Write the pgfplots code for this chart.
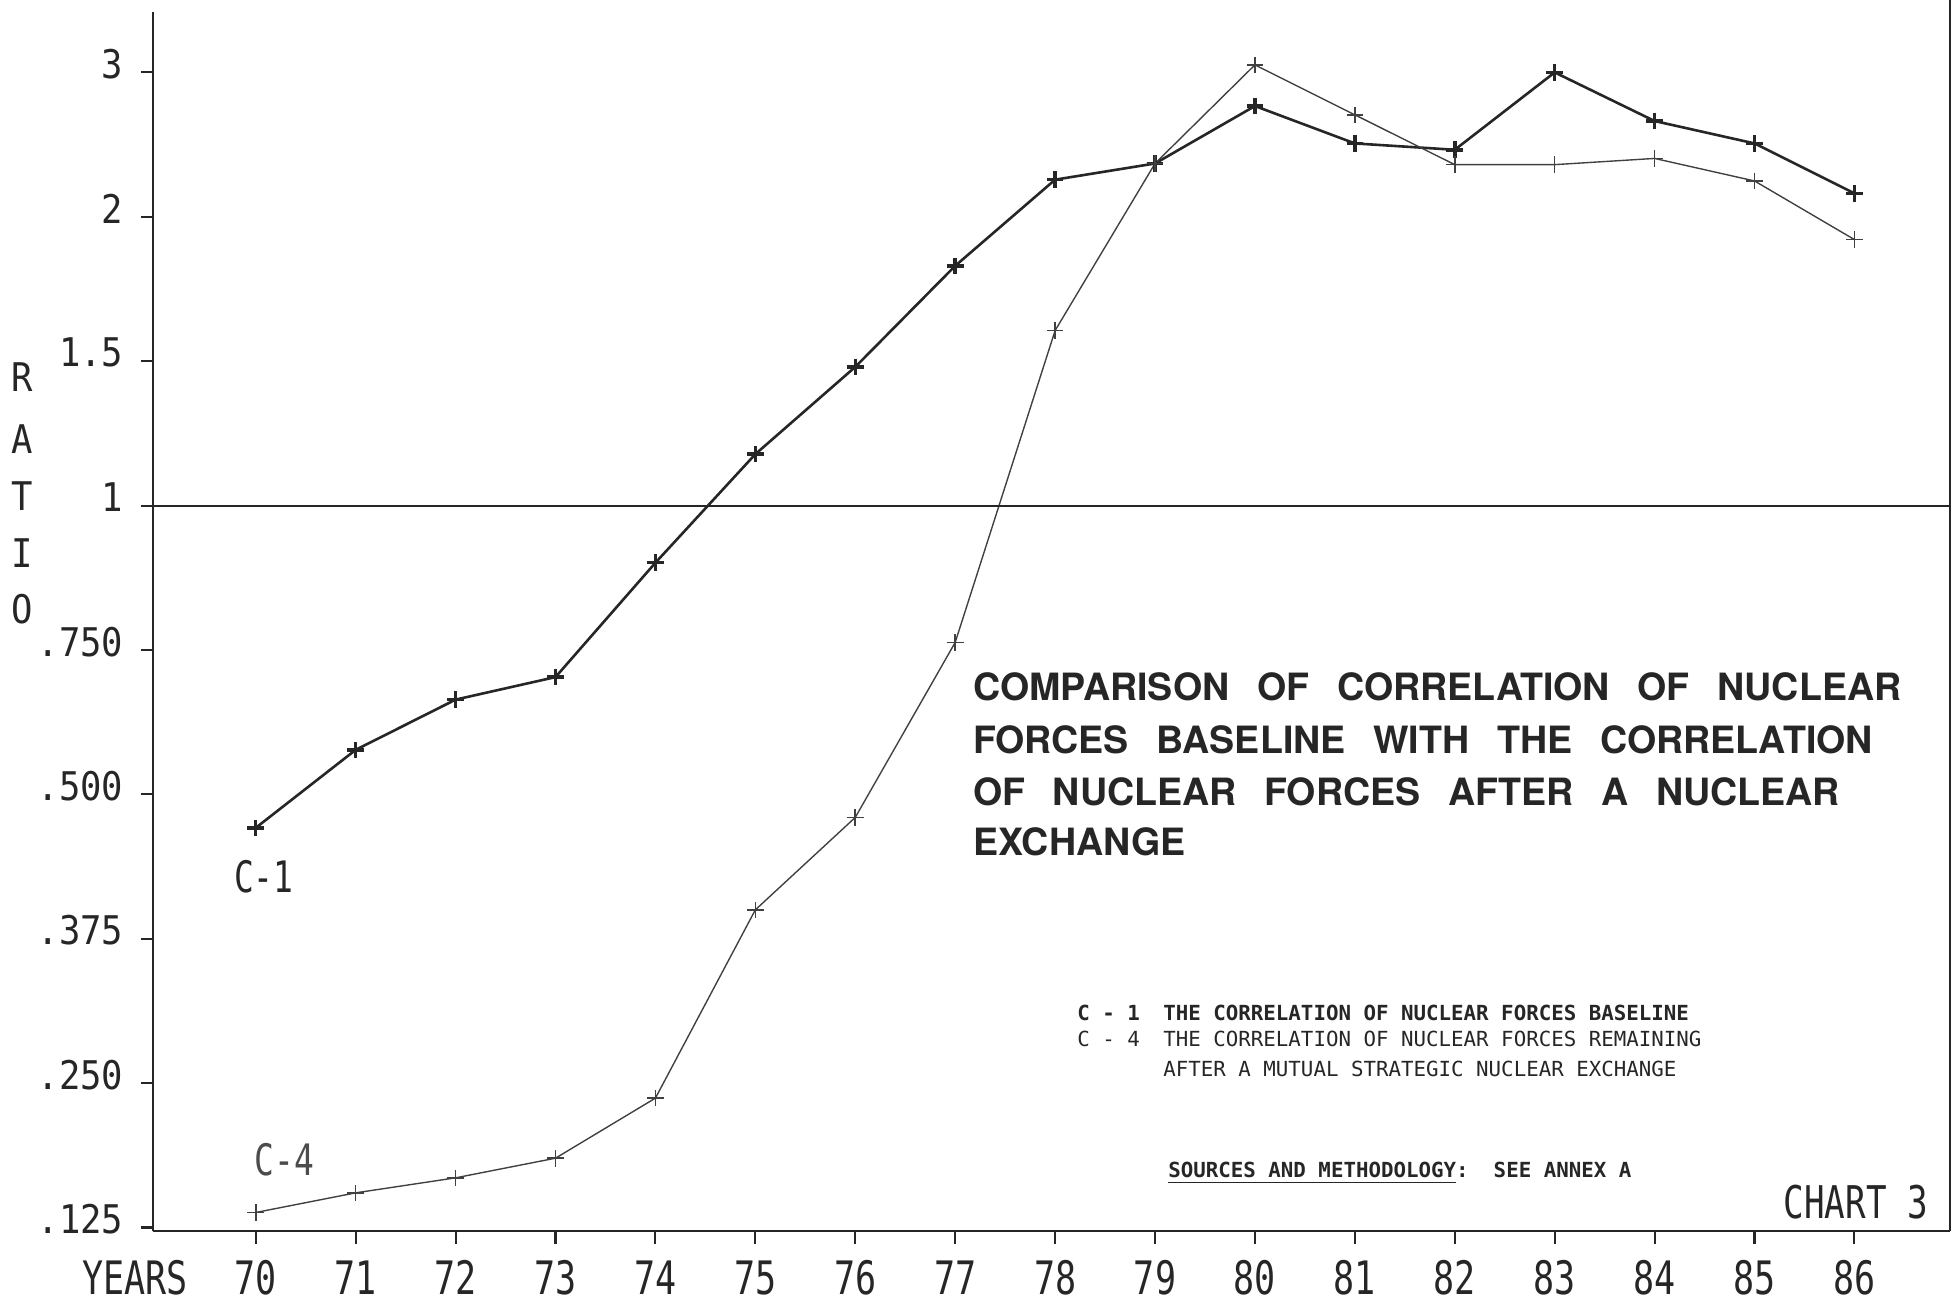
\documentclass[border=0pt]{standalone}
\usepackage{fontspec}
\usepackage{pgfplots}
\usepackage{pgfplotstable}
\pgfplotsset{compat=1.18}
\setmainfont{TeX Gyre Heros}
\newfontfamily\monof{DejaVu Sans Mono}
\newfontfamily\yfont{DejaVu Sans Mono}[FakeStretch=0.9]
\newfontfamily\xfont{DejaVu Sans Mono}[FakeStretch=0.76]
% piecewise-linear ratio scale of the original chart:
% .125,.250,.375,.500,.750,1,1.5,2,3 are equally spaced
\newcommand\ratiopos[1]{(min(#1,0.5)-0.125)/0.125 + (min(max(#1,0.5),1)-0.5)/0.25 + (min(max(#1,1),2)-1)/0.5 + max(#1,2)-2}
\newcommand\titlefont{\bfseries\fontsize{10.85pt}{14.9pt}\selectfont\spaceskip=8pt\relax}
\pgfplotstableread{
year c1 c4
70 0.471 0.138
71 0.577 0.155
72 0.664 0.168
73 0.703 0.185
74 0.901 0.237
75 1.178 0.400
76 1.480 0.480
77 1.830 0.763
78 2.257 1.606
79 2.369 2.369
80 2.767 3.052
81 2.508 2.706
82 2.464 2.361
83 3.000 2.361
84 2.663 2.404
85 2.508 2.248
86 2.162 1.921
}\ratios
\begin{document}
\begin{tikzpicture}
\begin{axis}[
  scale only axis, width=518.4pt, height=351.72pt,
  xmin=68.976, xmax=86.954, ymin=-0.026, ymax=8.415,
  axis x line*=bottom, axis y line*=left,
  axis line style={-, line width=0.6pt, black!85},
  xtick={70,71,...,86},
  xticklabels={70,71,72,73,74,75,76,77,78,79,80,81,82,83,84,85,86},
  ytick={0,1,2,3,4,5,6,7,8},
  yticklabels={.125,.250,.375,.500,.750,1,1.5,2,3},
  tick align=outside, major tick length=3.6pt,
  tick style={line width=0.6pt, black!85},
  xticklabel style={font={\xfont\fontsize{13.3pt}{14pt}\selectfont}, text=black!85, anchor=north, inner sep=0pt, yshift=-4.7pt},
  yticklabel style={font={\yfont\fontsize{11.4pt}{12pt}\selectfont}, text=black!85, anchor=east, inner sep=0pt, xshift=-4.9pt, yshift=2.4pt},
  clip=false,
]
\addplot[black!85, line width=0.75pt, mark=+, mark size=2.4pt, mark options={line width=1pt}]
  table[x=year, y expr={\ratiopos{\thisrow{c1}}}] {\ratios};
\addplot[black!75, line width=0.4pt, mark=+, mark size=2.4pt, mark options={line width=0.45pt}]
  table[x=year, y expr={\ratiopos{\thisrow{c4}}}] {\ratios};
% reference line at ratio 1 and right border
\draw[line width=0.6pt, black!85] (axis cs:68.914,5) -- (axis cs:86.954,5);
\draw[line width=0.6pt, black!85] (axis cs:86.954,-0.026) -- (axis cs:86.954,8.5);
% axis titles
\node[font={\xfont\fontsize{13.3pt}{14pt}\selectfont}, text=black!85, anchor=north, inner sep=0pt, yshift=-8.3pt] at (axis cs:68.795,-0.026) {YEARS};
\node[font={\yfont\fontsize{11.4pt}{12pt}\selectfont}, text=black!85] at (axis cs:67.665,5.892) {R};
\node[font={\yfont\fontsize{11.4pt}{12pt}\selectfont}, text=black!85] at (axis cs:67.665,5.46) {A};
\node[font={\yfont\fontsize{11.4pt}{12pt}\selectfont}, text=black!85] at (axis cs:67.665,5.063) {T};
\node[font={\yfont\fontsize{11.4pt}{12pt}\selectfont}, text=black!85] at (axis cs:67.665,4.674) {I};
\node[font={\yfont\fontsize{11.4pt}{12pt}\selectfont}, text=black!85] at (axis cs:67.665,4.285) {O};
% series labels
\node[font={\xfont\fontsize{12.5pt}{13pt}\selectfont}, text=black!85] at (axis cs:70.08,2.428) {C-1};
\node[font={\xfont\fontsize{12.5pt}{13pt}\selectfont}, text=black!70] at (axis cs:70.287,0.467) {C-4};
% title
\node[font={\titlefont}, text=black!85, anchor=base west, inner sep=0pt] at (axis cs:77.172,3.652) {COMPARISON OF CORRELATION OF NUCLEAR};
\node[font={\titlefont}, text=black!85, anchor=base west, inner sep=0pt] at (axis cs:77.172,3.283) {FORCES BASELINE WITH THE CORRELATION};
\node[font={\titlefont}, text=black!85, anchor=base west, inner sep=0pt] at (axis cs:77.172,2.924) {OF NUCLEAR FORCES AFTER A NUCLEAR};
\node[font={\titlefont}, text=black!85, anchor=base west, inner sep=0pt] at (axis cs:77.172,2.578) {EXCHANGE};
% key
\node[font={\monof\bfseries\fontsize{6pt}{7pt}\selectfont}, text=black!85, anchor=base west, inner sep=0pt] at (axis cs:78.215,1.434) {C - 1};
\node[font={\monof\bfseries\fontsize{6pt}{7pt}\selectfont}, text=black!85, anchor=base west, inner sep=0pt] at (axis cs:79.076,1.434) {THE CORRELATION OF NUCLEAR FORCES BASELINE};
\node[font={\monof\fontsize{6pt}{7pt}\selectfont}, text=black!85, anchor=base west, inner sep=0pt] at (axis cs:78.215,1.253) {C - 4};
\node[font={\monof\fontsize{6pt}{7pt}\selectfont}, text=black!85, anchor=base west, inner sep=0pt] at (axis cs:79.076,1.253) {THE CORRELATION OF NUCLEAR FORCES REMAINING};
\node[font={\monof\fontsize{6pt}{7pt}\selectfont}, text=black!85, anchor=base west, inner sep=0pt] at (axis cs:79.076,1.045) {AFTER A MUTUAL STRATEGIC NUCLEAR EXCHANGE};
\node[font={\monof\bfseries\fontsize{6pt}{7pt}\selectfont}, text=black!85, anchor=base west, inner sep=0pt] at (axis cs:79.126,0.346) {\underline{SOURCES AND METHODOLOGY}:\ \ SEE ANNEX A};
% chart number
\node[font={\xfont\fontsize{13pt}{14pt}\selectfont}, text=black!85, anchor=base east, inner sep=0pt] at (axis cs:86.742,0.06) {CHART 3};
\end{axis}
\pgfresetboundingbox
\path[use as bounding box] ([xshift=-44.28pt,yshift=-21.24pt]current axis.south west) rectangle ([xshift=1.8pt,yshift=3.6pt]current axis.north east);
\end{tikzpicture}
\end{document}
